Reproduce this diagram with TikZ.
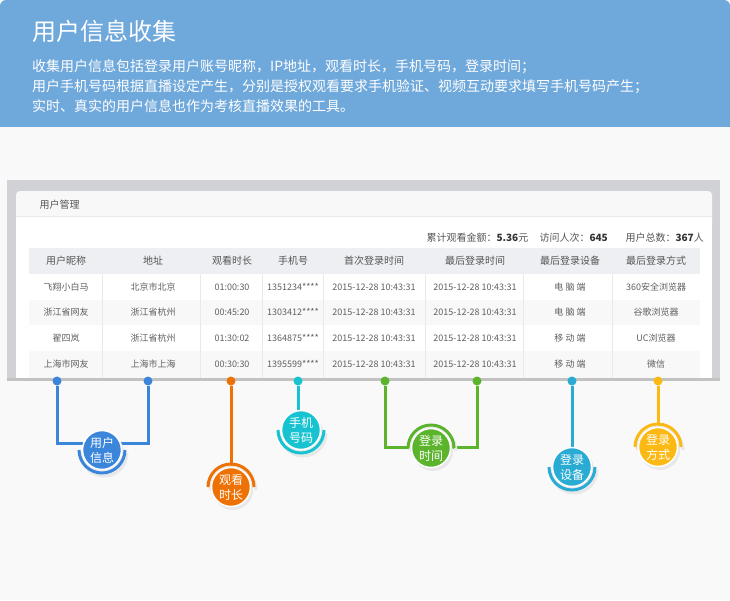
\documentclass[tikz,border=0pt]{standalone}
\usepackage{fontspec}
\setmainfont{Noto Sans CJK SC}
\usetikzlibrary{positioning}
\usetikzlibrary{calc}
\definecolor{banner}{RGB}{111,168,219}
\definecolor{pagebg}{RGB}{249,249,249}
\definecolor{panelgrey}{RGB}{209,210,214}
\definecolor{panelhead}{RGB}{248,248,248}
\definecolor{panelline}{RGB}{233,233,233}
\definecolor{tablehead}{RGB}{237,239,242}
\definecolor{rowgrey}{RGB}{248,248,248}
\definecolor{headtext}{RGB}{85,85,85}
\definecolor{celltext}{RGB}{95,95,95}
\definecolor{cblue}{RGB}{59,134,218}
\definecolor{corange}{RGB}{238,114,3}
\definecolor{ccyan}{RGB}{23,195,208}
\definecolor{cgreen}{RGB}{91,180,44}
\definecolor{cteal}{RGB}{42,171,211}
\definecolor{cyellow}{RGB}{253,185,19}

% name, position, colour, start angle of the half ring, text
\newcommand{\tagbub}[5]{%
	\fill[black!9] ([shift={(2pt,-3pt)}]#2) circle[radius=20pt];
	\draw[black!9, line width=3pt] ([shift={(2pt,-3pt)}]#2) ++(#4:23pt) arc[start angle=#4, delta angle=180, radius=23pt];
	\draw[#3, line width=3pt] (#2) ++(#4:23pt) arc[start angle=#4, delta angle=180, radius=23pt];
	\node[bubble=#3] (#1) at (#2) {#5};
}

\begin{document}
\begin{tikzpicture}[x=1pt, y=-1pt,
		tagdot/.style={circle, fill=#1, inner sep=0pt, minimum size=9pt},
		bubble/.style={circle, fill=#1, draw=white, line width=1.5pt, minimum size=39pt, inner sep=0pt, text=white, align=center, font=\fontsize{12}{15}\selectfont},
		link/.style={draw=#1, line width=3pt},
		headcell/.style={text=headtext, font=\fontsize{10}{12}\selectfont},
		cell/.style={text=celltext, font=\fontsize{9}{11}\selectfont}]

	% Page
	\useasboundingbox (0,0) rectangle (730,600);
	\fill[pagebg] (0,0) rectangle (730,600);

	% Banner
	\fill[banner, rounded corners=6pt] (0,0) rectangle (730,40);
	\fill[banner] (0,20) rectangle (730,127);
	\node[anchor=west, inner sep=0pt, text=white, font=\fontsize{24}{28}\selectfont] (title) at (32,31) {用户信息收集};
	\node[anchor=west, inner sep=0pt, align=left, text=white, font=\fontsize{14}{20}\selectfont] (intro) at (32,86)
		{收集用户信息包括登录用户账号昵称，IP地址，观看时长，手机号码，登录时间；\\
		用户手机号码根据直播设定产生，分别是授权观看要求手机验证、视频互动要求填写手机号码产生；\\
		实时、真实的用户信息也作为考核直播效果的工具。};

	% Panel
	\fill[panelgrey] (7,180) rectangle (720,378);
	\fill[black!24] (7,378) rectangle (720,381);
	\fill[panelhead, rounded corners=4pt] (16,191) rectangle (712,230);
	\fill[white] (16,216) rectangle (712,378);
	\draw[panelline] (16,216) -- (712,216);
	\node[anchor=west, headcell] (pagename) at (36,205) {用户管理};

	% Totals
	\node[anchor=west, headcell] (amount) at (423,238) {累计观看金额：\textcolor{black!80}{\textbf{5.36}}元};
	\node[anchor=west, headcell] (visits) at (536,238) {访问人次：\textcolor{black!80}{\textbf{645}}};
	\node[anchor=west, headcell] (users) at (622,238) {用户总数：\textcolor{black!80}{\textbf{367}}人};

	% Table
	\fill[tablehead] (29,248) rectangle (700,274);
	\fill[rowgrey] (29,300) rectangle (700,325);
	\fill[rowgrey] (29,351) rectangle (700,378);
	\foreach \x in {102,200,262,323,425,523,612}
		\draw[panelline] (\x,274) -- (\x,378);
	\foreach \x/\t in {66/用户昵称, 153/地址, 232/观看时长, 293/手机号, 374/首次登录时间, 475/最后登录时间, 570/最后登录设备, 656/最后登录方式}
		\node[headcell] (head\x) at (\x,261) {\t};
	\foreach \r/\y/\na/\ad/\du/\ph/\ft/\lt/\dv/\br in {
			1/287/飞翔小白马/北京市北京/01:00:30/1351234****/2015-12-28 10:43:31/2015-12-28 10:43:31/电 脑 端/360安全浏览器,
			2/312/浙江省网友/浙江省杭州/00:45:20/1303412****/2015-12-28 10:43:31/2015-12-28 10:43:31/电 脑 端/谷歌浏览器,
			3/338/翟四岚/浙江省杭州/01:30:02/1364875****/2015-12-28 10:43:31/2015-12-28 10:43:31/移 动 端/UC浏览器,
			4/364/上海市网友/上海市上海/00:30:30/1395599****/2015-12-28 10:43:31/2015-12-28 10:43:31/移 动 端/微信} {
		\node[cell] (nick\r) at (66,\y) {\na};
		\node[cell] (addr\r) at (153,\y) {\ad};
		\node[cell] (dur\r) at (232,\y) {\du};
		\node[cell] (phone\r) at (293,\y) {\ph};
		\node[cell] (first\r) at (374,\y) {\ft};
		\node[cell] (last\r) at (475,\y) {\lt};
		\node[cell] (dev\r) at (570,\y) {\dv};
		\node[cell] (way\r) at (656,\y) {\br};
	}

	% Bubble positions
	\coordinate (ui) at (102,450);
	\coordinate (wt) at (231,487);
	\coordinate (ph) at (301,430);
	\coordinate (lt) at (431,448);
	\coordinate (ld) at (572,467);
	\coordinate (lm) at (658,447);

	% Connectors
	\foreach \n/\x/\c in {1/57/cblue, 2/148/cblue, 3/231/corange, 4/298/ccyan, 5/385/cgreen, 6/477/cgreen, 7/572/cteal, 8/658/cyellow}
		\node[tagdot=\c] (d\n) at (\x,381) {};
	\draw[link=cblue] (d1) |- ([yshift=7pt]ui) -| (d2);
	\draw[link=corange] (d3) -- (wt);
	\draw[link=ccyan] (d4) -- (d4 |- ph);
	\draw[link=cgreen] (d5) |- ([yshift=1pt]lt) -| (d6);
	\draw[link=cteal] (d7) -- (ld);
	\draw[link=cyellow] (d8) -- (lm);

	% Bubbles
	\tagbub{uibub}{ui}{cblue}{180}{用户\\信息}
	\tagbub{wtbub}{wt}{corange}{0}{观看\\时长}
	\tagbub{phbub}{ph}{ccyan}{180}{手机\\号码}
	\tagbub{ltbub}{lt}{cgreen}{0}{登录\\时间}
	\tagbub{ldbub}{ld}{cteal}{180}{登录\\设备}
	\tagbub{lmbub}{lm}{cyellow}{0}{登录\\方式}
\end{tikzpicture}
\end{document}
